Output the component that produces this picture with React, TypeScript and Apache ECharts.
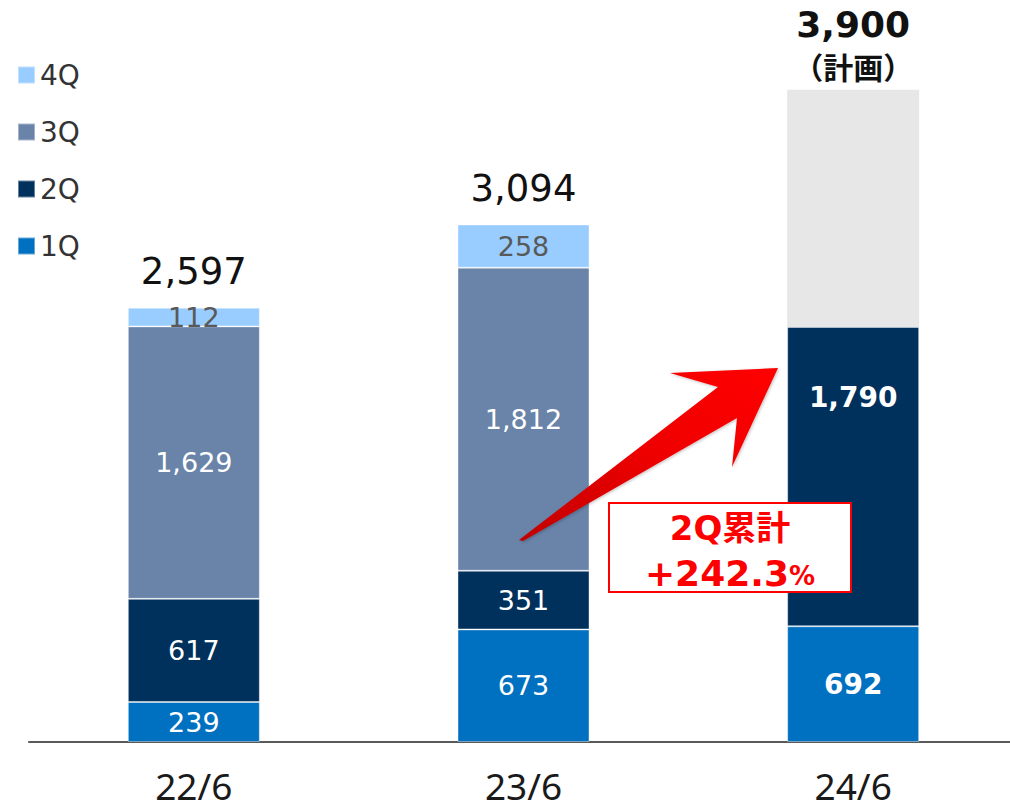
import React, { useEffect, useRef } from "react";
import * as echarts from "echarts";

const categories = ["22/6", "23/6", "24/6"];
const q1 = [239, 673, 692];
const q2 = [617, 351, 1790];
const q3: (number | null)[] = [1629, 1812, null];
const q4: (number | null)[] = [112, 258, null];
const plan: (number | null)[] = [null, null, 1418];
const totals = ["2,597", "3,094", "3,900"];
const planNote = "（計画）";
const boxLine1 = "2Q累計";
const boxLine2 = "+242.3";

const C1 = "#0070C0";
const C2 = "#00305C";
const C3 = "#6983A9";
const C4 = "#99CCFF";
const CP = "#E7E7E7";
const NUM_FONT = "DejaVu Sans";

export default function App() {
  const ref = useRef<HTMLDivElement>(null);
  useEffect(() => {
    if (!ref.current) return;
    const chart = echarts.init(ref.current, undefined, { renderer: "svg" });
    const border = { borderColor: "rgba(255,255,255,0.4)", borderWidth: 1 };
    const inLabel = (color: string) => ({
      show: true,
      position: "inside" as const,
      color,
      fontSize: 27,
      fontFamily: NUM_FONT,
      formatter: (p: any) => (p.value == null ? "" : Number(p.value).toLocaleString("en-US")),
    });
    chart.setOption({
      animation: false,
      grid: { left: 29, right: -8, top: 73, bottom: 70, outerBoundsMode: "none", containLabel: false },
      legend: {
        orient: "vertical",
        left: 12,
        top: 56,
        itemWidth: 17,
        itemHeight: 17,
        itemGap: 29,
        icon: "rect",
        data: ["4Q", "3Q", "2Q", "1Q"],
        textStyle: { fontSize: 28, color: "#333333", fontFamily: NUM_FONT },
      },
      xAxis: {
        type: "category",
        data: categories,
        axisTick: { show: false },
        axisLine: { lineStyle: { color: "#595959", width: 2 } },
        axisLabel: { fontSize: 37, color: "#1a1a1a", fontFamily: "Noto Sans", margin: 25 },
      },
      yAxis: { type: "value", min: 0, max: 4000, show: false, splitLine: { show: false } },
      series: [
        {
          name: "1Q",
          type: "bar",
          stack: "a",
          barWidth: 132,
          data: q1.map((v, i) => (i === 2 ? { value: v, label: { fontWeight: "bold", fontSize: 28 } } : v)),
          itemStyle: { color: C1, ...border },
          label: inLabel("#ffffff"),
        },
        {
          name: "2Q",
          type: "bar",
          stack: "a",
          data: q2.map((v, i) =>
            i === 2
              ? { value: v, label: { fontWeight: "bold", fontSize: 28, position: "insideTop", distance: 57 } }
              : v
          ),
          itemStyle: { color: C2, ...border },
          label: inLabel("#ffffff"),
        },
        {
          name: "3Q",
          type: "bar",
          stack: "a",
          data: q3,
          itemStyle: { color: C3, ...border },
          label: inLabel("#ffffff"),
        },
        {
          name: "4Q",
          type: "bar",
          stack: "a",
          data: q4,
          itemStyle: { color: C4, ...border },
          label: inLabel("#595959"),
        },
        {
          name: "plan",
          type: "bar",
          stack: "a",
          data: plan,
          itemStyle: { color: CP },
          label: { show: false },
        },
        {
          name: "total",
          type: "bar",
          stack: "a",
          data: totals.map((_, i) => (i === 2 ? { value: 0, label: { distance: 5 } } : 0)),
          itemStyle: { color: "transparent" },
          label: {
            show: true,
            position: "top",
            distance: 15,
            formatter: (p: any) =>
              p.dataIndex === 2
                ? `{b|${totals[2]}}\n{c|${planNote}}`
                : `{n|${totals[p.dataIndex]}}`,
            rich: {
              n: { fontSize: 37, fontFamily: NUM_FONT, color: "#111111", lineHeight: 42 },
              b: { fontSize: 36, fontFamily: NUM_FONT, fontWeight: "bold", color: "#111111", lineHeight: 44 },
              c: {
                fontSize: 30,
                fontFamily: "Noto Sans CJK JP",
                fontWeight: "bold",
                color: "#111111",
                lineHeight: 38,
              },
            },
          },
        },
      ],
      graphic: [
        {
          type: "polygon",
          z: 100,
          shape: {
            points: [
              [519, 540],
              [718, 387],
              [670, 373],
              [778, 368],
              [732, 467],
              [737, 418],
              [523, 541],
            ],
          },
          style: {
            fill: new echarts.graphic.LinearGradient(0, 1, 1, 0, [
              { offset: 0, color: "#C00000" },
              { offset: 0.5, color: "#EE0000" },
              { offset: 1, color: "#FF0000" },
            ]),
            shadowBlur: 3,
            shadowColor: "rgba(0,0,0,0.25)",
            shadowOffsetX: 1,
            shadowOffsetY: 1,
          },
        },
        {
          type: "rect",
          z: 100,
          shape: { x: 609, y: 503, width: 242, height: 89 },
          style: { fill: "#ffffff", stroke: "#FF0000", lineWidth: 2 },
        },
        {
          type: "text",
          z: 101,
          x: 730,
          y: 528,
          style: {
            text: boxLine1,
            fill: "#FF0000",
            font: "bold 34px 'DejaVu Sans', 'Noto Sans CJK JP'",
            align: "center",
            verticalAlign: "middle",
          },
        },
        {
          type: "text",
          z: 101,
          x: 730,
          y: 573,
          style: {
            text: `{a|${boxLine2}}{p|%}`,
            align: "center",
            verticalAlign: "middle",
            rich: {
              a: { fill: "#FF0000", fontSize: 36, fontWeight: "bold", fontFamily: NUM_FONT },
              p: { fill: "#FF0000", fontSize: 26, fontWeight: "bold", fontFamily: NUM_FONT, padding: [6, 0, 0, 0] },
            },
          },
        },
      ],
    });
    return () => chart.dispose();
  }, []);
  return (
    <div
      ref={ref}
      style={{ position: "absolute", left: 0, top: 0, width: 1010, height: 812, background: "#ffffff" }}
    />
  );
}
